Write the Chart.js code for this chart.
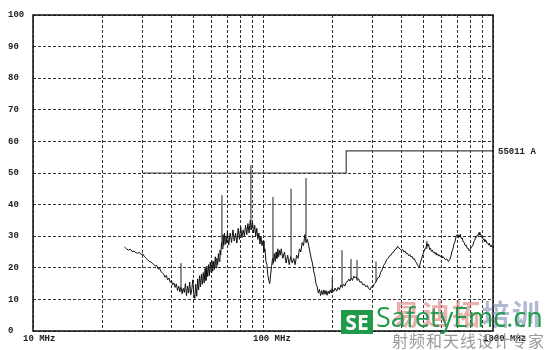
<!DOCTYPE html>
<html>
<head>
<meta charset="utf-8">
<script src="https://cdn.jsdelivr.net/npm/chart.js@4/dist/chart.umd.min.js"></script>
<style>
  html, body { margin: 0; padding: 0; background: #fff; }
  .wrap { position: relative; width: 546px; height: 350px; }
  canvas { display: block; }
  .wm { position: absolute; white-space: nowrap; pointer-events: none; }
  .wm-cn { left: 392px; top: 293px; font: bold 28px "Noto Sans CJK SC"; letter-spacing: 2px; }
  .wm-cn .a { color: rgba(215, 110, 110, 0.55); }
  .wm-cn .b { color: rgba(110, 130, 170, 0.55); }
  .wm-se { left: 341px; top: 310px; width: 32px; height: 24px; background: #1f9a4b; color: #fff;
           font: bold 21px "Open Sans"; line-height: 24px; text-align: center; }
  .wm-en { left: 376px; top: 300px; font: 27px "Open Sans"; color: #229a4c; line-height: 34px; }
  .wm-sub { left: 392px; top: 331px; font: 16px "Noto Sans CJK SC"; color: #9a9a9a; letter-spacing: 1px; line-height: 19px; }
</style>
</head>
<body>
<div class="wrap">
  <canvas id="chart" width="546" height="350"></canvas>
  <div class="wm wm-cn"><span class="a">易迪拓</span><span class="b">培训</span></div>
  <div class="wm wm-se">SE</div>
  <div class="wm wm-en">SafetyEmc.cn</div>
  <div class="wm wm-sub">射频和天线设计专家</div>
</div>
<script>
// frequency axis ticks (MHz), one grid line each
const tickMHz = [10, 20, 30, 40, 50, 60, 70, 80, 90, 100, 200, 300, 400, 500, 600, 700, 800, 900, 1000];
const tickLabels = { 10: "10 MHz", 100: "100 MHz", 1000: "1000 MHz" };

// limit line 55011 A (dBuV/m)
const limitMHz = [30, 230, 230, 1000];
const limitDb = [50, 50, 57, 57];
const limitName = "55011 A";

// measured spectrum
const traceMHz = [
  25, 25.5, 26, 26.5, 27, 27.5, 28, 28.5, 29, 29.5, 30, 30.5, 31, 31.5, 32, 32.5, 33, 33.5, 34, 34.5,
  35, 35.5, 36, 36.5, 37, 37.5, 38, 38.5, 39, 39.5, 40, 40.5, 41, 41.5, 42, 42.5, 43, 43.5, 44, 44.5,
  45, 45.5, 46, 46.5, 47, 47.5, 48, 48.5, 49, 49.5, 50, 50.5, 51, 51.5, 52, 52.5, 53, 53.5, 54, 54.5,
  55, 55.5, 56, 56.5, 57, 57.5, 58, 58.5, 59, 59.5, 60, 60.5, 61, 61.5, 62, 62.5, 63, 63.5, 64, 64.5,
  65, 65.5, 66, 66.5, 67, 67.5, 68, 68.5, 69, 69.5, 70, 71, 72, 73, 74, 75, 76, 77, 78, 79,
  80, 81, 82, 83, 84, 85, 86, 87, 88, 89, 90, 91, 92, 93, 94, 95, 96, 97, 98, 99,
  100, 101, 102, 103, 104, 105, 106, 107, 108, 109, 110, 111, 112, 113, 114, 115, 116, 117, 118, 119,
  120, 122, 124, 126, 128, 130, 132, 134, 136, 138, 140, 142, 144, 146, 148, 150, 152, 154, 156, 158,
  160, 162, 164, 166, 168, 170, 172, 174, 176, 178,
  180, 182, 184, 186, 188, 190, 192, 194, 196, 198,
  200, 203, 206, 209, 212, 215, 218, 221, 224, 227,
  230, 233, 236, 239, 242, 245, 248, 251, 254, 257,
  260, 264, 268, 272, 276, 280, 284, 288, 292, 296,
  300, 305, 310, 315, 320, 325, 330, 335, 340, 345,
  350, 355, 360, 365, 370, 375, 380, 385, 390, 395,
  400, 405, 410, 415, 420, 425, 430, 435, 440, 445,
  450, 455, 460, 465, 470, 474, 478, 484, 490, 495,
  500, 505, 510, 515, 520, 525, 530, 535, 540, 545,
  550, 555, 560, 565, 570, 575, 580, 585, 590, 595,
  600, 610, 620, 630, 640, 648, 655, 662, 670, 677,
  685, 692, 700, 705, 710, 715, 720, 728, 735, 742,
  750, 757, 765, 772, 780, 787, 795, 802, 810, 817,
  825, 832, 840, 847, 855, 862, 870, 877, 885, 892,
  900, 908, 915, 922, 930, 940, 950, 958, 965, 972,
  980, 990, 1000
];
const traceDb = [
  26.6, 26.0, 25.6, 25.9, 25.1, 25.3, 24.8, 24.6, 24.9, 24.2, 24.4, 23.6, 23.0, 22.6, 22.0, 21.9, 21.5, 21.0, 20.6, 20.8,
  19.6, 19.9, 18.8, 18.4, 18.0, 17.0, 17.6, 16.2, 16.8, 15.4, 16.0, 14.6, 15.2, 13.8, 14.9, 12.8, 14.2, 12.4, 14.0, 11.8,
  13.5, 12.2, 15.0, 11.2, 14.2, 12.0, 15.5, 11.5, 13.0, 16.2, 12.0, 10.3, 14.8, 11.0, 16.5, 13.0, 17.5, 14.0, 18.0, 14.8,
  18.5, 15.2, 19.8, 16.0, 20.5, 17.2, 21.0, 17.5, 21.8, 18.5, 22.2, 19.0, 22.0, 19.5, 23.5, 20.0, 23.0, 21.0, 24.5, 22.0,
  25.5, 24.0, 28.0, 26.0, 30.5, 27.0, 31.0, 27.5, 30.0, 28.0, 31.5, 27.2, 31.0, 28.0, 32.0, 28.5, 31.0, 27.8, 32.5, 29.0,
  33.0, 29.5, 32.0, 30.0, 33.5, 30.5, 34.0, 31.0, 35.0, 32.0, 34.5, 31.0, 33.5, 30.0, 32.5, 29.0, 31.0, 27.5, 30.0, 27.0,
  28.5, 25.0, 26.0, 22.0, 21.0, 17.5, 16.0, 15.0, 18.0, 20.5, 23.0, 21.5, 24.5, 22.0, 25.0, 23.0, 26.0, 23.5, 25.5, 24.0,
  26.0, 23.0, 25.0, 21.5, 24.0, 21.0, 23.5, 21.5, 23.0, 21.0, 24.0, 23.0, 26.0, 25.0, 28.0, 27.0, 30.5, 28.0, 29.0, 27.0,
  25.0, 23.0, 21.5, 19.0, 17.5, 15.0, 14.0, 12.0, 13.2, 11.2,
  12.8, 11.5, 13.0, 11.6, 12.8, 11.3, 12.6, 11.8, 13.0, 12.0,
  13.5, 12.5, 13.6, 12.6, 13.8, 13.0, 14.6, 13.8, 14.8, 14.2,
  15.4, 15.6, 16.4, 15.8, 16.8, 16.0, 17.4, 16.8, 17.2, 16.0,
  16.6, 15.4, 15.6, 14.6, 14.8, 14.0, 14.4, 13.4, 13.0, 14.0,
  13.8, 15.0, 15.5, 16.8, 17.0, 18.6, 19.5, 20.8, 21.5, 22.6,
  23.0, 23.8, 24.0, 24.8, 25.0, 25.8, 26.0, 26.8, 26.2, 26.0,
  25.5, 25.8, 25.0, 25.3, 24.4, 24.6, 23.8, 24.2, 23.4, 23.6,
  22.8, 22.9, 22.0, 21.6, 20.8, 20.6, 20.2, 21.8, 23.0, 24.2,
  25.0, 26.0, 26.0, 27.8, 26.8, 27.5, 25.8, 26.2, 25.2, 25.6,
  24.8, 25.0, 24.4, 24.8, 24.0, 24.4, 23.7, 24.1, 23.5, 23.8,
  23.2, 23.4, 22.6, 22.8, 22.0, 22.6, 23.5, 25.0, 26.0, 27.6,
  28.5, 30.2, 30.5, 29.6, 30.4, 29.8, 30.6, 29.2, 29.4, 28.2,
  28.0, 27.0, 27.2, 26.2, 26.2, 25.4, 25.8, 25.8, 26.8, 27.0,
  28.2, 28.6, 29.8, 29.6, 30.4, 30.2, 31.2, 30.4, 30.6, 29.6,
  29.8, 28.8, 29.0, 28.2, 28.8, 27.8, 27.8, 27.2, 27.8, 26.8,
  27.2, 26.6, 26.5
];

// narrow-band spikes: frequency, top of spike, level of the trace underneath
const spikeMHz = [44, 66.3, 88.6, 110.5, 132.4, 153.8, 200, 220.6, 241.3, 256.3, 310, 516];
const spikeTop = [21.5, 43, 52.5, 42.4, 45, 48.4, 17, 25.6, 22.8, 22.5, 22, 28.5];
const spikeBase = [14, 27, 32, 21, 23, 28, 13, 14.5, 16.5, 16.5, 15.5, 26];

const monoFont = { family: "Liberation Mono", size: 9, weight: "bold" };
const gridColor = "#333";

const traceData = traceMHz.map((f, i) => ({ x: f, y: traceDb[i] }));
const limitData = limitMHz.map((f, i) => ({ x: f, y: limitDb[i] }));
const spikeData = [];
spikeMHz.forEach((f, i) => {
  spikeData.push({ x: f, y: spikeBase[i] }, { x: f, y: spikeTop[i] }, { x: f, y: null });
});

// solid frame round the plot + limit name at the right
const framePlugin = {
  id: "frame",
  afterDraw(chart) {
    const { ctx, chartArea: a, scales } = chart;
    ctx.save();
    ctx.strokeStyle = "#111";
    ctx.lineWidth = 1.5;
    ctx.setLineDash([]);
    ctx.strokeRect(a.left, a.top, a.right - a.left, a.bottom - a.top);
    ctx.fillStyle = "#222";
    ctx.font = "bold 9px 'Liberation Mono'";
    ctx.textBaseline = "middle";
    ctx.textAlign = "left";
    ctx.fillText(limitName, a.right + 5, scales.y.getPixelForValue(limitDb[limitDb.length - 1]) + 1);
    ctx.restore();
  }
};

new Chart(document.getElementById("chart"), {
  type: "line",
  data: {
    datasets: [
      {
        data: limitData,
        borderColor: "#444",
        borderWidth: 1.2,
        pointRadius: 0,
        tension: 0
      },
      {
        data: spikeData,
        borderColor: "#222",
        borderWidth: 1,
        pointRadius: 0,
        spanGaps: false
      },
      {
        data: traceData,
        borderColor: "#111",
        borderWidth: 1,
        pointRadius: 0,
        tension: 0
      }
    ]
  },
  options: {
    responsive: false,
    animation: false,
    layout: { padding: { left: 8, top: 15, right: 53, bottom: 0 } },
    plugins: { legend: { display: false }, tooltip: { enabled: false } },
    scales: {
      x: {
        type: "logarithmic",
        min: 10,
        max: 1000,
        afterBuildTicks(scale) {
          scale.ticks = tickMHz.map(v => ({ value: v }));
        },
        afterFit(scale) { scale.height = 19; },
        grid: { color: gridColor, lineWidth: 1, drawTicks: false },
        border: { display: false, dash: [3, 2] },
        ticks: {
          autoSkip: false,
          maxRotation: 0,
          align: "start",
          labelOffset: -10,
          padding: 2,
          color: "#222",
          font: monoFont,
          callback: (v) => tickLabels[v] || ""
        }
      },
      y: {
        min: 0,
        max: 100,
        afterFit(scale) { scale.width = 25; },
        grid: { color: gridColor, lineWidth: 1, drawTicks: false },
        border: { display: false, dash: [3, 2] },
        ticks: {
          stepSize: 10,
          crossAlign: "far",
          color: "#222",
          font: monoFont
        }
      }
    }
  },
  plugins: [framePlugin]
});
</script>
</body>
</html>
